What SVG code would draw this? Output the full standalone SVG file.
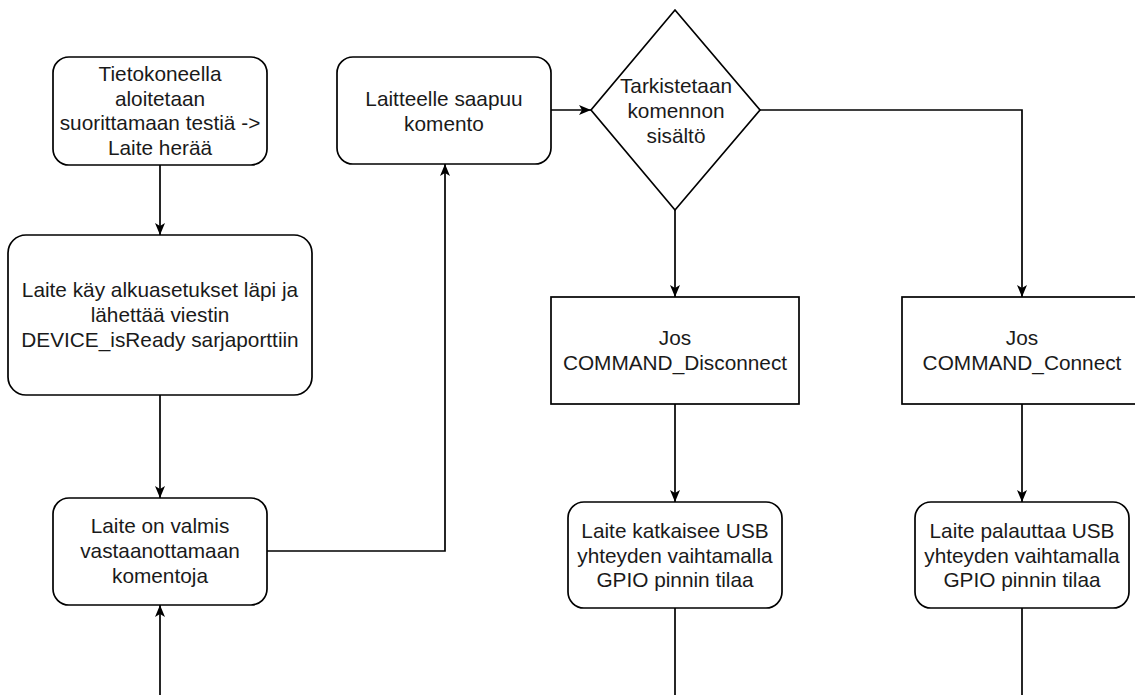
<svg xmlns="http://www.w3.org/2000/svg" width="1135" height="695" viewBox="0 0 1135 695">
<defs>
<style>
.box{fill:#fff;stroke:#000;stroke-width:1.7}
.t{font-family:"Liberation Sans",Arial,sans-serif;font-size:20.8px;fill:#1a1a1a;text-anchor:middle}
.c{fill:none;stroke:#000;stroke-width:1.7}
</style>
<marker id="arr" viewBox="0 0 12 10" refX="12" refY="5" markerWidth="12" markerHeight="10" markerUnits="userSpaceOnUse" orient="auto">
<path d="M0,0 L12,5 L0,10 L3,5 z" fill="#000"/>
</marker>
</defs>
<rect width="1135" height="695" fill="#fff"/>
<g id="connectors">
<path class="c" d="M160,165 V235" marker-end="url(#arr)"/>
<path class="c" d="M160,395 V498" marker-end="url(#arr)"/>
<path class="c" d="M160,695 V605" marker-end="url(#arr)"/>
<path class="c" d="M267,551 H445 V164" marker-end="url(#arr)"/>
<path class="c" d="M551,110 H591" marker-end="url(#arr)"/>
<path class="c" d="M760,110 H1022 V297" marker-end="url(#arr)"/>
<path class="c" d="M675,210 V297" marker-end="url(#arr)"/>
<path class="c" d="M675,404 V502" marker-end="url(#arr)"/>
<path class="c" d="M1022,404 V502" marker-end="url(#arr)"/>
<path class="c" d="M675,608 V695"/>
<path class="c" d="M1022,608 V695"/>
</g>
<g id="n1">
<rect class="box" x="53" y="57" width="214" height="108" rx="16"/>
<text class="t" x="160" y="81">Tietokoneella</text>
<text class="t" x="160" y="105.5">aloitetaan</text>
<text class="t" x="160" y="130">suorittamaan testiä -&gt;</text>
<text class="t" x="160" y="154.5">Laite herää</text>
</g>
<g id="n2">
<rect class="box" x="8" y="235" width="304" height="160" rx="18"/>
<text class="t" x="160" y="297">Laite käy alkuasetukset läpi ja</text>
<text class="t" x="160" y="322">lähettää viestin</text>
<text class="t" x="160" y="347">DEVICE_isReady sarjaporttiin</text>
</g>
<g id="n3">
<rect class="box" x="53" y="498" width="214" height="107" rx="16"/>
<text class="t" x="160" y="533">Laite on valmis</text>
<text class="t" x="160" y="558">vastaanottamaan</text>
<text class="t" x="160" y="583">komentoja</text>
</g>
<g id="n4">
<rect class="box" x="337" y="57" width="214" height="107" rx="16"/>
<text class="t" x="444" y="106">Laitteelle saapuu</text>
<text class="t" x="444" y="131">komento</text>
</g>
<g id="n5">
<path class="box" d="M675,10 L760,110 L675,210 L591,110 Z"/>
<text class="t" x="676" y="93">Tarkistetaan</text>
<text class="t" x="676" y="118">komennon</text>
<text class="t" x="676" y="143">sisältö</text>
</g>
<g id="n6">
<rect class="box" x="551" y="297" width="248" height="107"/>
<text class="t" x="675" y="345">Jos</text>
<text class="t" x="675" y="370">COMMAND_Disconnect</text>
</g>
<g id="n7">
<rect class="box" x="902" y="297" width="248" height="107"/>
<text class="t" x="1022" y="345">Jos</text>
<text class="t" x="1022" y="370">COMMAND_Connect</text>
</g>
<g id="n8">
<rect class="box" x="568" y="502" width="214" height="106" rx="16"/>
<text class="t" x="675" y="538">Laite katkaisee USB</text>
<text class="t" x="675" y="562.5">yhteyden vaihtamalla</text>
<text class="t" x="675" y="587">GPIO pinnin tilaa</text>
</g>
<g id="n9">
<rect class="box" x="915" y="502" width="214" height="106" rx="16"/>
<text class="t" x="1022" y="538">Laite palauttaa USB</text>
<text class="t" x="1022" y="562.5">yhteyden vaihtamalla</text>
<text class="t" x="1022" y="587">GPIO pinnin tilaa</text>
</g>
</svg>
